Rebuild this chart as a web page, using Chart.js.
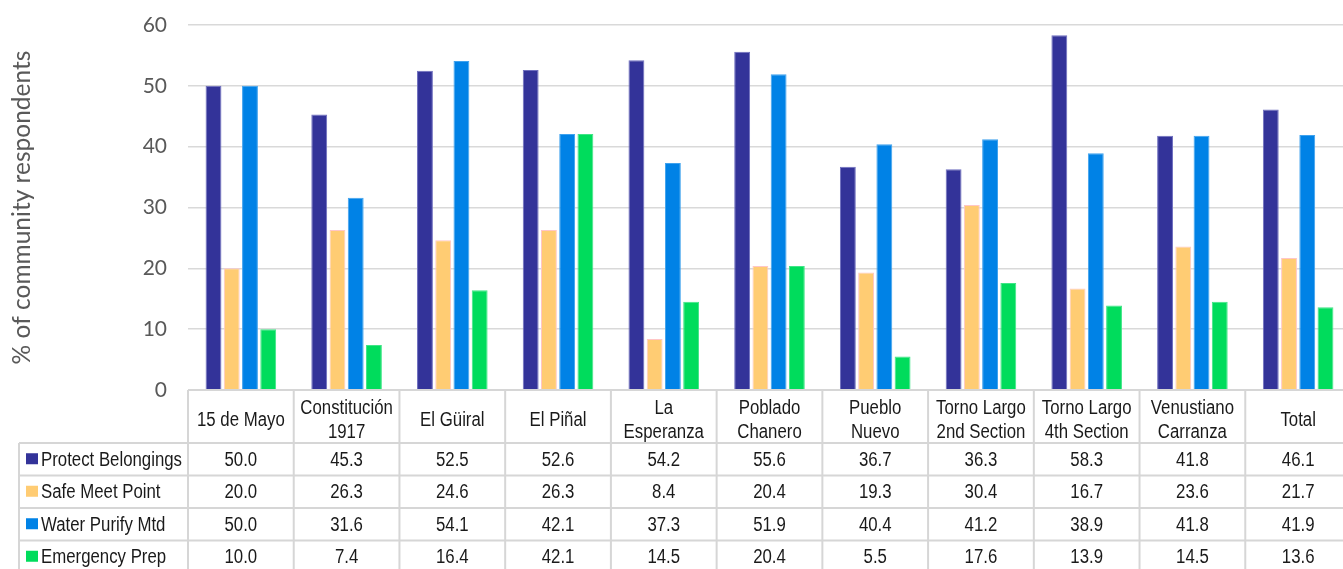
<!DOCTYPE html>
<html>
<head>
<meta charset="utf-8">
<script src="https://cdn.jsdelivr.net/npm/chart.js@4.4.1/dist/chart.umd.min.js"></script>
<style>
  html, body { margin: 0; padding: 0; background: #fff; overflow: hidden; }
  #wrap { width: 1352px; height: 569px; }
</style>
</head>
<body>
<div id="wrap"><canvas id="c" width="1352" height="569"></canvas></div>
<script>
const categories = [
  ['15 de Mayo'], ['Constitución', '1917'], ['El Güiral'], ['El Piñal'],
  ['La', 'Esperanza'], ['Poblado', 'Chanero'], ['Pueblo', 'Nuevo'],
  ['Torno Largo', '2nd Section'], ['Torno Largo', '4th Section'],
  ['Venustiano', 'Carranza'], ['Total']
];
const seriesNames = ['Protect Belongings', 'Safe Meet Point', 'Water Purify Mtd', 'Emergency Prep'];
const protectBelongings = [50.0, 45.3, 52.5, 52.6, 54.2, 55.6, 36.7, 36.3, 58.3, 41.8, 46.1];
const safeMeetPoint     = [20.0, 26.3, 24.6, 26.3, 8.4, 20.4, 19.3, 30.4, 16.7, 23.6, 21.7];
const waterPurifyMtd    = [50.0, 31.6, 54.1, 42.1, 37.3, 51.9, 40.4, 41.2, 38.9, 41.8, 41.9];
const emergencyPrep     = [10.0, 7.4, 16.4, 42.1, 14.5, 20.4, 5.5, 17.6, 13.9, 14.5, 13.6];
const yMin = 0, yMax = 60, yStep = 10;
const yTitle = '% of community respondents';

const fills   = ['#333399', '#FFCC73', '#0082E6', '#00DC5C'];
const borders = ['#6F6FBF', '#FFC6C6', '#3FA2EE', '#3FE586'];
const seriesData = [protectBelongings, safeMeetPoint, waterPurifyMtd, emergencyPrep];

const TABLE_FONT = "20px 'Liberation Sans', Arial, sans-serif";
const NARROW = 0.84;
const headerH = 53, rowH = 32.5, tableLeft = 19;

function narrowText(ctx, t, x, y) {
  ctx.save();
  ctx.translate(x, y);
  ctx.scale(NARROW, 1);
  ctx.fillText(t, 0, 0);
  ctx.restore();
}

const tablePlugin = {
  id: 'dataTable',
  afterDraw(chart) {
    const ctx = chart.ctx;
    const { left, right, bottom } = chart.chartArea;
    const n = categories.length;
    const colW = (right - left) / n;
    const H = chart.height;
    ctx.save();
    ctx.strokeStyle = '#D6D6D6';
    ctx.lineWidth = 2;
    ctx.beginPath();
    ctx.moveTo(left, bottom); ctx.lineTo(right, bottom);
    for (let r = 0; r < seriesData.length; r++) {
      const y = bottom + headerH + r * rowH;
      ctx.moveTo(tableLeft, y); ctx.lineTo(right, y);
    }
    for (let i = 0; i <= n; i++) {
      const x = left + i * colW;
      ctx.moveTo(x, bottom); ctx.lineTo(x, H + 10);
    }
    ctx.moveTo(tableLeft, bottom + headerH); ctx.lineTo(tableLeft, H + 10);
    ctx.stroke();

    ctx.font = TABLE_FONT;
    ctx.fillStyle = '#1A1A1A';
    ctx.textAlign = 'center';
    ctx.textBaseline = 'middle';
    const xs = chart.scales.x;
    for (let i = 0; i < n; i++) {
      const cx = xs.getPixelForValue(i);
      const lines = categories[i];
      const lh = 24;
      const cy = bottom + headerH / 2 + 4;
      lines.forEach((t, k) => {
        narrowText(ctx, t, cx, cy + (k - (lines.length - 1) / 2) * lh);
      });
    }
    for (let r = 0; r < seriesData.length; r++) {
      const cy = bottom + headerH + r * rowH + rowH / 2 + 1;
      for (let i = 0; i < n; i++) {
        narrowText(ctx, seriesData[r][i].toFixed(1), xs.getPixelForValue(i), cy);
      }
      ctx.fillStyle = fills[r];
      ctx.fillRect(26, cy - 7, 12, 11);
      ctx.fillStyle = '#1A1A1A';
      ctx.textAlign = 'left';
      narrowText(ctx, seriesNames[r], 41, cy);
      ctx.textAlign = 'center';
    }
    ctx.restore();
  }
};

new Chart(document.getElementById('c'), {
  type: 'bar',
  data: {
    labels: categories,
    datasets: seriesData.map((d, i) => ({
      label: seriesNames[i],
      data: d,
      backgroundColor: fills[i],
      borderColor: borders[i],
      borderWidth: 1,
      barPercentage: 0.87,
      categoryPercentage: 0.69
    }))
  },
  options: {
    responsive: false,
    animation: false,
    devicePixelRatio: 1,
    layout: { padding: { top: 25, bottom: 179, left: 0, right: 1 } },
    plugins: { legend: { display: false }, tooltip: { enabled: false }, title: { display: false } },
    scales: {
      x: { display: false },
      y: {
        min: yMin, max: yMax,
        afterFit(s) { s.width = 188; },
        ticks: { stepSize: yStep, color: '#595959', padding: 0,
                 font: { family: 'Lato, sans-serif', size: 21 } },
        grid: { color: '#D9D9D9', lineWidth: 1.5, drawTicks: true, tickLength: 21,
                tickColor: 'rgba(0,0,0,0)' },
        border: { display: false },
        title: { display: true, text: yTitle, color: '#595959',
                 font: { family: 'Lato, sans-serif', size: 24.5 },
                 padding: { top: 7, bottom: 0 } }
      }
    }
  },
  plugins: [tablePlugin]
});
</script>
</body>
</html>
